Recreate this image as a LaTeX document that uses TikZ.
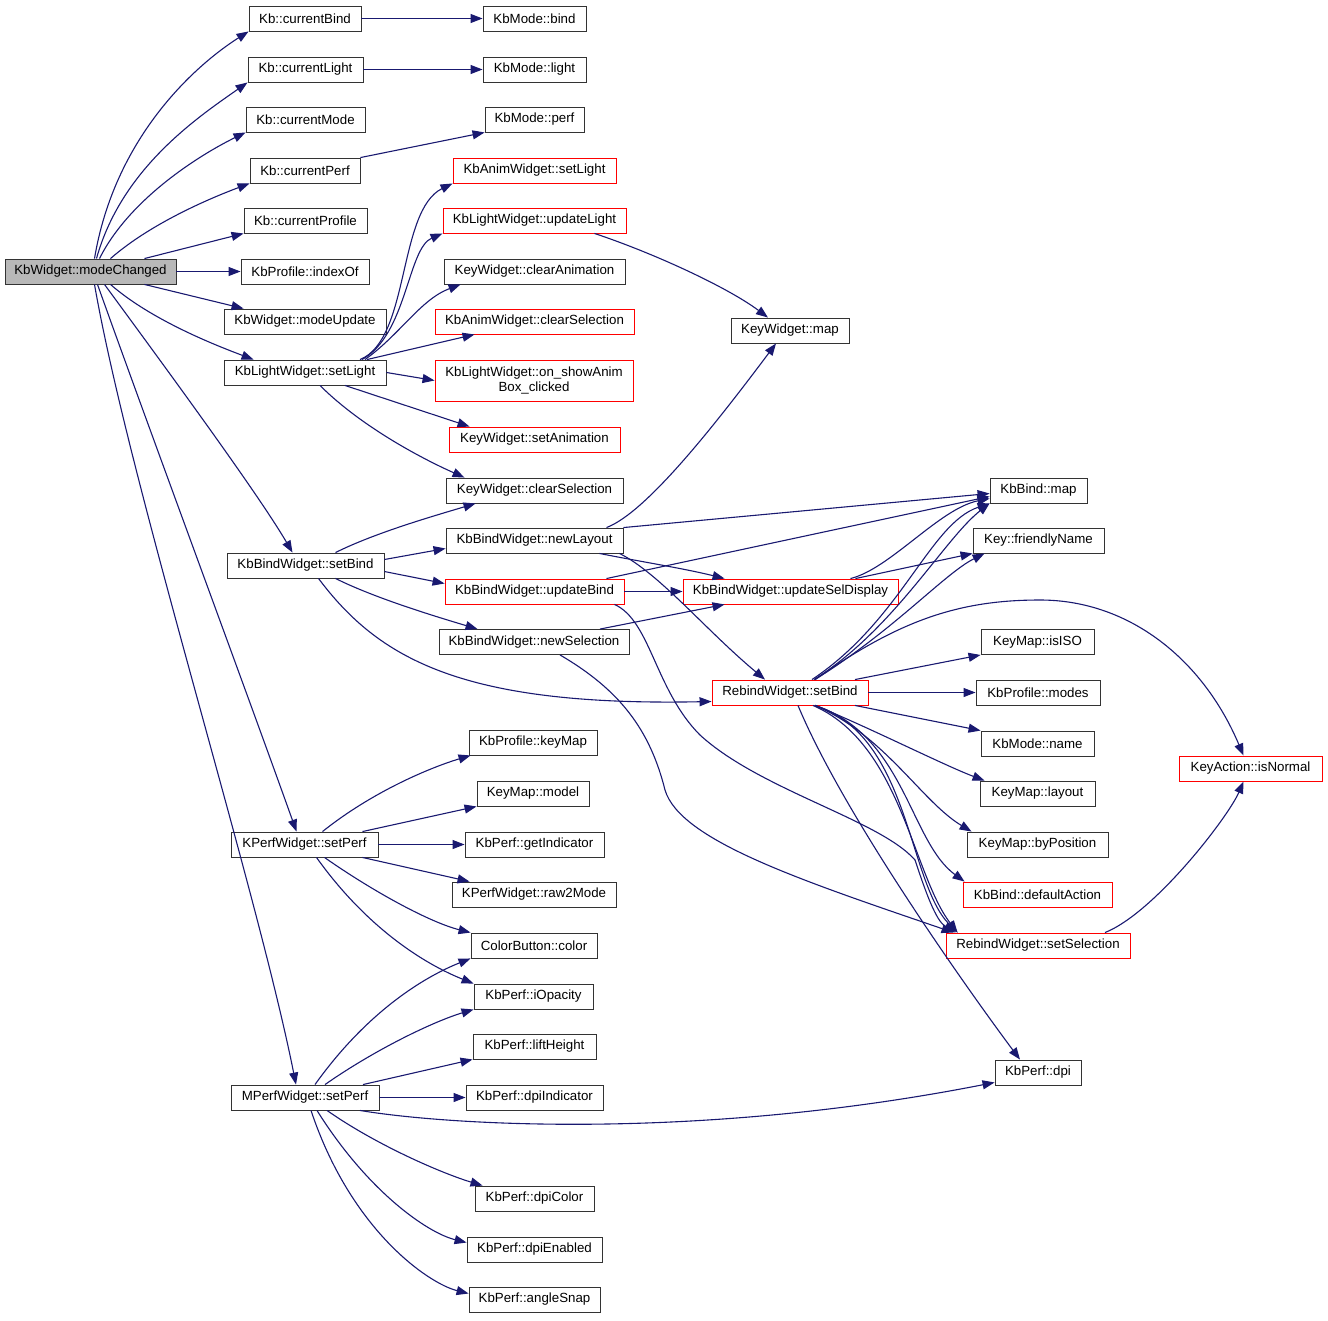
\documentclass[tikz,border=0pt]{standalone}
\usepackage{fontspec}
\setmainfont{Liberation Sans}
\usetikzlibrary{arrows.meta}
\definecolor{callblue}{HTML}{191970}

\begin{document}
\begin{tikzpicture}[x=1pt,y=-1pt,
    fn/.style={draw=black!80, line width=0.9pt, fill=white, minimum height=25pt, inner sep=0pt, font=\fontsize{13.3}{15.5}\selectfont},
    fnred/.style={fn, draw=red},
    call/.style={draw=callblue, line width=1.1pt, -{Triangle[length=12pt,width=9pt]}}]
    \useasboundingbox (0,0) rectangle (1328,1320);

    % Root function
    \node[fn, fill=black!28, minimum width=171pt] (mc) at (90.5,271.5) {KbWidget::modeChanged};

    % First column of callees
    \node[fn, minimum width=112pt] (cbind) at (305,18.5) {Kb::currentBind};
    \node[fn, minimum width=115pt] (clight) at (305.5,69.5) {Kb::currentLight};
    \node[fn, minimum width=119pt] (cmode) at (305.5,119.5) {Kb::currentMode};
    \node[fn, minimum width=110pt] (cperf) at (305,170.5) {Kb::currentPerf};
    \node[fn, minimum width=123pt] (cprof) at (305.5,220.5) {Kb::currentProfile};
    \node[fn, minimum width=128pt] (pidx) at (305,271.5) {KbProfile::indexOf};
    \node[fn, minimum width=162pt] (mupd) at (305,321.5) {KbWidget::modeUpdate};
    \node[fn, minimum width=162pt] (lsetl) at (305,372.5) {KbLightWidget::setLight};
    \node[fn, minimum width=157pt] (bsetb) at (305.5,565.5) {KbBindWidget::setBind};
    \node[fn, minimum width=147pt] (ksetp) at (304.5,844.5) {KPerfWidget::setPerf};
    \node[fn, minimum width=148pt] (msetp) at (305,1097.5) {MPerfWidget::setPerf};

    % Second column
    \node[fn, minimum width=103pt] (mbind) at (534.5,18.5) {KbMode::bind};
    \node[fn, minimum width=103pt] (mlight) at (534.5,69.5) {KbMode::light};
    \node[fn, minimum width=99pt] (mperf) at (534.5,119.5) {KbMode::perf};
    \node[fnred, minimum width=163pt] (asetl) at (534.5,170.5) {KbAnimWidget::setLight};
    \node[fnred, minimum width=183pt] (lupd) at (534.5,220.5) {KbLightWidget::updateLight};
    \node[fn, minimum width=181pt] (kclra) at (534.5,271.5) {KeyWidget::clearAnimation};
    \node[fnred, minimum width=199pt] (aclrs) at (534.5,321.5) {KbAnimWidget::clearSelection};
    \node[fnred, minimum width=198pt, minimum height=41pt, align=center] (lshow) at (534,380.5) {KbLightWidget::on\_showAnim\\Box\_clicked};
    \node[fnred, minimum width=171pt] (ksetan) at (534.5,439.5) {KeyWidget::setAnimation};
    \node[fn, minimum width=177pt] (kclrs) at (534.5,490.5) {KeyWidget::clearSelection};
    \node[fn, minimum width=177pt] (bnewl) at (534.5,540.5) {KbBindWidget::newLayout};
    \node[fnred, minimum width=179pt] (bupd) at (534.5,591.5) {KbBindWidget::updateBind};
    \node[fn, minimum width=190pt] (bnews) at (534,642) {KbBindWidget::newSelection};
    \node[fn, minimum width=128pt] (pkmap) at (533,742.5) {KbProfile::keyMap};
    \node[fn, minimum width=112pt] (mmodel) at (533,793.5) {KeyMap::model};
    \node[fn, minimum width=139pt] (pgeti) at (534.5,844.5) {KbPerf::getIndicator};
    \node[fn, minimum width=164pt] (kraw) at (534,894.5) {KPerfWidget::raw2Mode};
    \node[fn, minimum width=126pt] (ccol) at (534,945.5) {ColorButton::color};
    \node[fn, minimum width=119pt] (popa) at (533.5,996.5) {KbPerf::iOpacity};
    \node[fn, minimum width=123pt] (plift) at (534.5,1046.5) {KbPerf::liftHeight};
    \node[fn, minimum width=137pt] (pdpii) at (534.5,1097.5) {KbPerf::dpiIndicator};
    \node[fn, minimum width=119pt] (pdcol) at (534.5,1198.5) {KbPerf::dpiColor};
    \node[fn, minimum width=135pt] (pdena) at (534.5,1249.5) {KbPerf::dpiEnabled};
    \node[fn, minimum width=131pt] (pang) at (534.5,1299.5) {KbPerf::angleSnap};

    % Third column
    \node[fn, minimum width=118pt] (kmap) at (790,330.5) {KeyWidget::map};
    \node[fnred, minimum width=215pt] (bsel) at (790.5,591.5) {KbBindWidget::updateSelDisplay};
    \node[fnred, minimum width=156pt] (rsetb) at (790,692.5) {RebindWidget::setBind};

    % Fourth column
    \node[fn, minimum width=97pt] (bmap) at (1038.5,490.5) {KbBind::map};
    \node[fn, minimum width=131pt] (kfname) at (1038.5,540.5) {Key::friendlyName};
    \node[fn, minimum width=113pt] (miso) at (1037.5,642) {KeyMap::isISO};
    \node[fn, minimum width=124pt] (pmodes) at (1038,692.5) {KbProfile::modes};
    \node[fn, minimum width=113pt] (mname) at (1037.5,743.5) {KbMode::name};
    \node[fn, minimum width=115pt] (mlay) at (1037.5,793.5) {KeyMap::layout};
    \node[fn, minimum width=141pt] (mbyp) at (1037.5,844.5) {KeyMap::byPosition};
    \node[fnred, minimum width=149pt] (bdef) at (1037.5,894.5) {KbBind::defaultAction};
    \node[fnred, minimum width=184pt] (rsets) at (1038,945.5) {RebindWidget::setSelection};
    \node[fn, minimum width=86pt] (pdpi) at (1038,1072.5) {KbPerf::dpi};
    \node[fnred, minimum width=143pt] (aisn) at (1250.5,768.5) {KeyAction::isNormal};

    % Calls from KbWidget::modeChanged
    \draw[call] ([xshift=4pt]mc.north) .. controls +(20,-120) and +(-55,35) .. (cbind.south west);
    \draw[call] ([xshift=6pt]mc.north) .. controls +(25,-90) and +(-50,35) .. (clight.south west);
    \draw[call] ([xshift=9pt]mc.north) .. controls +(30,-60) and +(-45,22) .. (cmode.south west);
    \draw[call] ([xshift=20pt]mc.north) .. controls +(40,-35) and +(-40,15) .. (cperf.south west);
    \draw[call] ([xshift=54pt]mc.north) -- (cprof.south west);
    \draw[call] (mc.east) -- (pidx.west);
    \draw[call] ([xshift=54pt]mc.south) -- ([xshift=20pt]mupd.north west);
    \draw[call] ([xshift=20pt]mc.south) .. controls +(40,35) and +(-40,-15) .. ([xshift=30pt]lsetl.north west);
    \draw[call] ([xshift=14pt]mc.south) .. controls +(55,75) and +(-35,-60) .. ([xshift=-13pt]bsetb.north);
    \draw[call] ([xshift=7pt]mc.south) .. controls +(50,140) and +(-50,-140) .. ([xshift=-8pt]ksetp.north);
    \draw[call] ([xshift=4pt]mc.south) .. controls +(35,200) and +(-40,-200) .. ([xshift=-9pt]msetp.north);

    % Kb accessors
    \draw[call] (cbind.east) -- (mbind.west);
    \draw[call] (clight.east) -- (mlight.west);
    \draw[call] (cperf.north east) -- (mperf.south west);

    % Calls from KbLightWidget::setLight
    \draw[call] ([xshift=55pt]lsetl.north) .. controls +(50,-20) and +(-55,27) .. (asetl.south west);
    \draw[call] ([xshift=57pt]lsetl.north) .. controls +(45,-25) and +(-35,15) .. (lupd.south west);
    \draw[call] ([xshift=60pt]lsetl.north) .. controls +(35,-25) and +(-40,15) .. ([xshift=17pt]kclra.south west);
    \draw[call] ([xshift=62pt]lsetl.north) -- ([xshift=40pt]aclrs.south west);
    \draw[call] (lsetl.east) -- (lshow.west);
    \draw[call] ([xshift=40pt]lsetl.south) -- ([xshift=21pt]ksetan.north west);
    \draw[call] ([xshift=15pt]lsetl.south) .. controls +(40,40) and +(-45,-20) .. ([xshift=19pt]kclrs.north west);
    \draw[call] ([xshift=60pt]lupd.south) .. controls +(60,20) and +(-40,-30) .. ([xshift=-22pt]kmap.north);

    % Calls from KbBindWidget::setBind
    \draw[call] ([xshift=30pt]bsetb.north) .. controls +(40,-20) and +(-40,12) .. ([xshift=30pt]kclrs.south west);
    \draw[call] ([yshift=6pt]bsetb.east) -- ([yshift=-8pt]bnewl.west);
    \draw[call] ([yshift=-6pt]bsetb.east) -- ([yshift=8pt]bupd.west);
    \draw[call] ([xshift=30pt]bsetb.south) .. controls +(40,20) and +(-40,-12) .. ([xshift=39pt]bnews.north west);
    \draw[call] ([xshift=13pt]bsetb.south) .. controls +(60,80) and +(-250,5) .. ([yshift=-9pt]rsetb.west);

    % KbBindWidget helpers
    \draw[call] ([xshift=72pt]bnewl.north) .. controls +(40,-15) and +(-60,80) .. ([xshift=-14pt]kmap.south);
    \draw[call] (bnewl.north east) -- ([yshift=-3pt]bmap.west);
    \draw[call] ([xshift=65pt]bnewl.south) .. controls +(40,8) and +(-40,-10) .. ([xshift=42pt]bsel.north west);
    \draw[call] ([xshift=85pt]bnewl.south) .. controls +(40,20) and +(-60,-50) .. ([xshift=-25pt]rsetb.north);
    \draw[call] ([xshift=72pt]bupd.north) -- ([yshift=-6pt]bmap.west);
    \draw[call] (bupd.east) -- (bsel.west);
    \draw[call] ([xshift=80pt]bupd.south) .. controls +(36,16) and +(-45,-45) .. (700,735)
        .. controls +(60,55) and +(-35,-40) .. (915,860) .. controls +(10,30) and +(-20,-12) .. ([xshift=10pt]rsets.north west);
    \draw[call] ([xshift=66pt]bnews.north) -- ([xshift=42pt]bsel.south west);
    \draw[call] ([xshift=26pt]bnews.south) .. controls +(60,35) and +(-15,-60) .. (665,790)
        .. controls +(15,50) and +(-155,-53) .. ([xshift=8pt]rsets.north west);
    \draw[call] ([xshift=60pt]bsel.north) .. controls +(40,-10) and +(-50,10) .. ([yshift=-8pt]bmap.west);
    \draw[call] ([xshift=65pt]bsel.north) -- (kfname.south west);

    % Calls from RebindWidget::setBind
    \draw[call] ([xshift=22pt]rsetb.north) .. controls +(90,-60) and +(-60,20) .. (bmap.south west);
    \draw[call] ([xshift=24pt]rsetb.north) .. controls +(80,-50) and +(-45,35) .. (bmap.south west);
    \draw[call] ([xshift=25pt]rsetb.north) .. controls +(80,-50) and +(-40,20) .. ([xshift=12pt]kfname.south west);
    \draw[call] ([xshift=25pt]rsetb.north) .. controls +(85,-60) and +(-80,0) .. (1040,600)
        .. controls +(90,0) and +(-40,-95) .. ([xshift=-7pt]aisn.north);
    \draw[call] ([xshift=65pt]rsetb.north) -- (miso.south west);
    \draw[call] (rsetb.east) -- (pmodes.west);
    \draw[call] ([xshift=65pt]rsetb.south) -- (mname.north west);
    \draw[call] ([xshift=25pt]rsetb.south) .. controls +(50,20) and +(-40,-15) .. ([xshift=5pt]mlay.north west);
    \draw[call] ([xshift=25pt]rsetb.south) .. controls +(70,30) and +(-50,-30) .. ([xshift=5pt]mbyp.north west);
    \draw[call] ([xshift=25pt]rsetb.south) .. controls +(90,30) and +(-55,-40) .. ([xshift=2pt]bdef.north west);
    \draw[call] ([xshift=25pt]rsetb.south) .. controls +(95,30) and +(-50,-50) .. ([xshift=12pt]rsets.north west);
    \draw[call] ([xshift=23pt]rsetb.south) .. controls +(88,38) and +(-45,-58) .. ([xshift=12pt]rsets.north west);
    \draw[call] ([xshift=8pt]rsetb.south) .. controls +(50,120) and +(-30,-40) .. ([xshift=-18pt]pdpi.north);
    \draw[call] ([xshift=67pt]rsets.north) .. controls +(50,-20) and +(-15,35) .. ([xshift=-7pt]aisn.south);

    % Calls from KPerfWidget::setPerf
    \draw[call] ([xshift=18pt]ksetp.north) .. controls +(50,-40) and +(-40,12) .. ([xshift=2pt]pkmap.south west);
    \draw[call] ([xshift=58pt]ksetp.north) -- (mmodel.south west);
    \draw[call] (ksetp.east) -- (pgeti.west);
    \draw[call] ([xshift=58pt]ksetp.south) -- ([xshift=18pt]kraw.north west);
    \draw[call] ([xshift=20pt]ksetp.south) .. controls +(50,35) and +(-40,-10) .. (ccol.north west);
    \draw[call] ([xshift=12pt]ksetp.south) .. controls +(50,70) and +(-50,-20) .. (popa.north west);

    % Calls from MPerfWidget::setPerf
    \draw[call] ([xshift=10pt]msetp.north) .. controls +(50,-70) and +(-50,20) .. (ccol.south west);
    \draw[call] ([xshift=20pt]msetp.north) .. controls +(50,-35) and +(-40,12) .. (popa.south west);
    \draw[call] ([xshift=58pt]msetp.north) -- (plift.south west);
    \draw[call] (msetp.east) -- (pdpii.west);
    \draw[call] ([xshift=55pt]msetp.south) .. controls +(90,15) and +(-295,58) .. ([yshift=3pt]pdpi.south west);
    \draw[call] ([xshift=22pt]msetp.south) .. controls +(50,35) and +(-40,-12) .. ([xshift=8pt]pdcol.north west);
    \draw[call] ([xshift=12pt]msetp.south) .. controls +(50,80) and +(-40,-10) .. ([yshift=-6pt]pdena.north west);
    \draw[call] ([xshift=6pt]msetp.south) .. controls +(40,120) and +(-40,-10) .. ([yshift=6pt]pang.west);
\end{tikzpicture}
\end{document}
